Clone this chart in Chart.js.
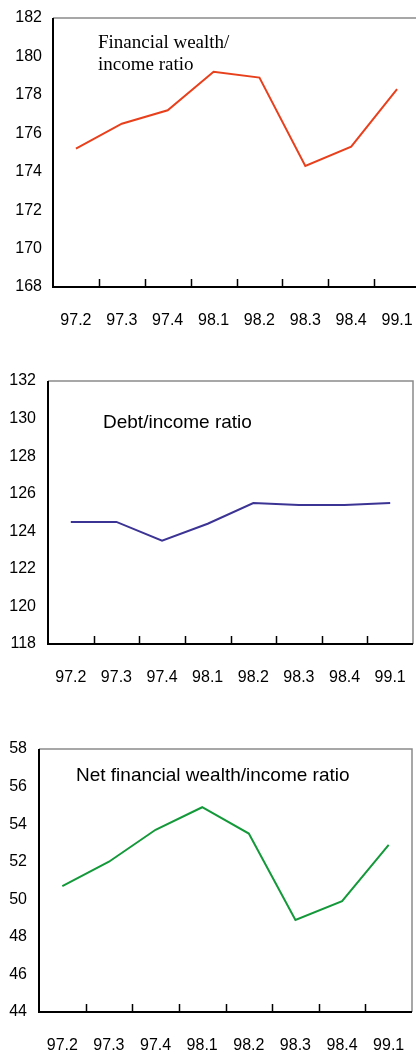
<!DOCTYPE html>
<html>
<head>
<meta charset="utf-8">
<script src="https://cdn.jsdelivr.net/npm/chart.js@4/dist/chart.umd.min.js"></script>
<style>
  html, body { margin: 0; padding: 0; background: #fff; overflow: hidden; }
  canvas { position: absolute; left: 0; }
</style>
</head>
<body>
<canvas id="c1" width="420" height="340" style="top:0px"></canvas>
<canvas id="c2" width="416" height="330" style="top:360px"></canvas>
<canvas id="c3" width="416" height="334" style="top:720px"></canvas>
<script>
// quarters on the x axis
const quarters = ['97.2', '97.3', '97.4', '98.1', '98.2', '98.3', '98.4', '99.1'];

// series values
const wealthRatio = [175.2, 176.5, 177.2, 179.2, 178.9, 174.3, 175.3, 178.3];
const debtRatio = [124.5, 124.5, 123.5, 124.4, 125.5, 125.4, 125.4, 125.5];
const netWealthRatio = [50.7, 52.0, 53.7, 54.9, 53.5, 48.9, 49.9, 52.9];

// y axis ranges (min, max), step 2
const wealthRange = [168, 182];
const debtRange = [118, 132];
const netWealthRange = [44, 58];

// panel captions
const wealthTitle = ['Financial wealth/', 'income ratio'];
const debtTitle = ['Debt/income ratio'];
const netWealthTitle = ['Net financial wealth/income ratio'];

const tickFont = { family: "'Liberation Sans', Arial, sans-serif", size: 16 };

// draws the frame, the small x ticks and the caption
const framePlugin = {
    id: 'frame',
    afterDraw(chart, args, opts) {
        const ctx = chart.ctx;
        const a = chart.chartArea;
        const xs = chart.scales.x;
        ctx.save();
        // top and right: grey
        ctx.strokeStyle = '#8a8a8a';
        ctx.lineWidth = 1.5;
        ctx.beginPath();
        ctx.moveTo(a.left, a.top);
        ctx.lineTo(a.right, a.top);
        ctx.lineTo(a.right, a.bottom);
        ctx.stroke();
        // left and bottom: black
        ctx.strokeStyle = '#000';
        ctx.lineWidth = 2;
        ctx.beginPath();
        ctx.moveTo(a.left, a.top);
        ctx.lineTo(a.left, a.bottom);
        ctx.lineTo(a.right, a.bottom);
        ctx.stroke();
        // tick marks between categories
        ctx.lineWidth = 1.5;
        ctx.beginPath();
        for (let i = 1; i < quarters.length; i++) {
            const x = Math.round((xs.getPixelForValue(i - 1) + xs.getPixelForValue(i)) / 2) + 0.5;
            ctx.moveTo(x, a.bottom);
            ctx.lineTo(x, a.bottom - 8);
        }
        ctx.stroke();
        // caption
        ctx.fillStyle = '#000';
        ctx.font = opts.font;
        ctx.textBaseline = 'alphabetic';
        opts.lines.forEach((t, i) => ctx.fillText(t, opts.x, opts.y + i * opts.lineGap));
        ctx.restore();
    }
};

function makeChart(id, values, range, color, lay, caption) {
    const ctx = document.getElementById(id).getContext('2d');
    return new Chart(ctx, {
        type: 'line',
        data: {
            labels: quarters,
            datasets: [{
                data: values,
                borderColor: color,
                borderWidth: 2,
                pointRadius: 0,
                tension: 0,
                fill: false
            }]
        },
        options: {
            responsive: false,
            animation: false,
            devicePixelRatio: 1,
            events: [],
            layout: { padding: { top: lay.top, left: 0, right: lay.right, bottom: 0 } },
            plugins: {
                legend: { display: false },
                tooltip: { enabled: false },
                frame: caption
            },
            scales: {
                x: {
                    type: 'category',
                    offset: true,
                    // invisible tick marks used only as spacing under the axis
                    grid: { drawOnChartArea: false, drawTicks: true, tickLength: lay.xPad, color: 'rgba(0,0,0,0)' },
                    border: { display: false },
                    ticks: { color: '#000', font: tickFont, padding: 0, maxRotation: 0, autoSkip: false },
                    afterFit(s) { s.height = lay.xHeight; }
                },
                y: {
                    min: range[0],
                    max: range[1],
                    grid: { drawOnChartArea: false, drawTicks: true, tickLength: lay.yPad, color: 'rgba(0,0,0,0)' },
                    border: { display: false },
                    ticks: { stepSize: 2, color: '#000', font: tickFont, padding: 0 },
                    afterFit(s) { s.width = lay.left; }
                }
            }
        },
        plugins: [framePlugin]
    });
}

makeChart('c1', wealthRatio, wealthRange, '#e8401c',
    { top: 18, right: 0, left: 53, xHeight: 53, xPad: 24, yPad: 11 },
    { lines: wealthTitle, x: 98, y: 48, lineGap: 22, font: "19px 'Liberation Serif', 'Times New Roman', serif" });

makeChart('c2', debtRatio, debtRange, '#3c3494',
    { top: 21, right: 3, left: 48, xHeight: 46, xPad: 24, yPad: 12 },
    { lines: debtTitle, x: 103, y: 68, lineGap: 22, font: "19px 'Liberation Sans', Arial, sans-serif" });

makeChart('c3', netWealthRatio, netWealthRange, '#14993a',
    { top: 29, right: 4, left: 39, xHeight: 42, xPad: 24, yPad: 12 },
    { lines: netWealthTitle, x: 76, y: 61, lineGap: 22, font: "19px 'Liberation Sans', Arial, sans-serif" });
</script>
</body>
</html>
